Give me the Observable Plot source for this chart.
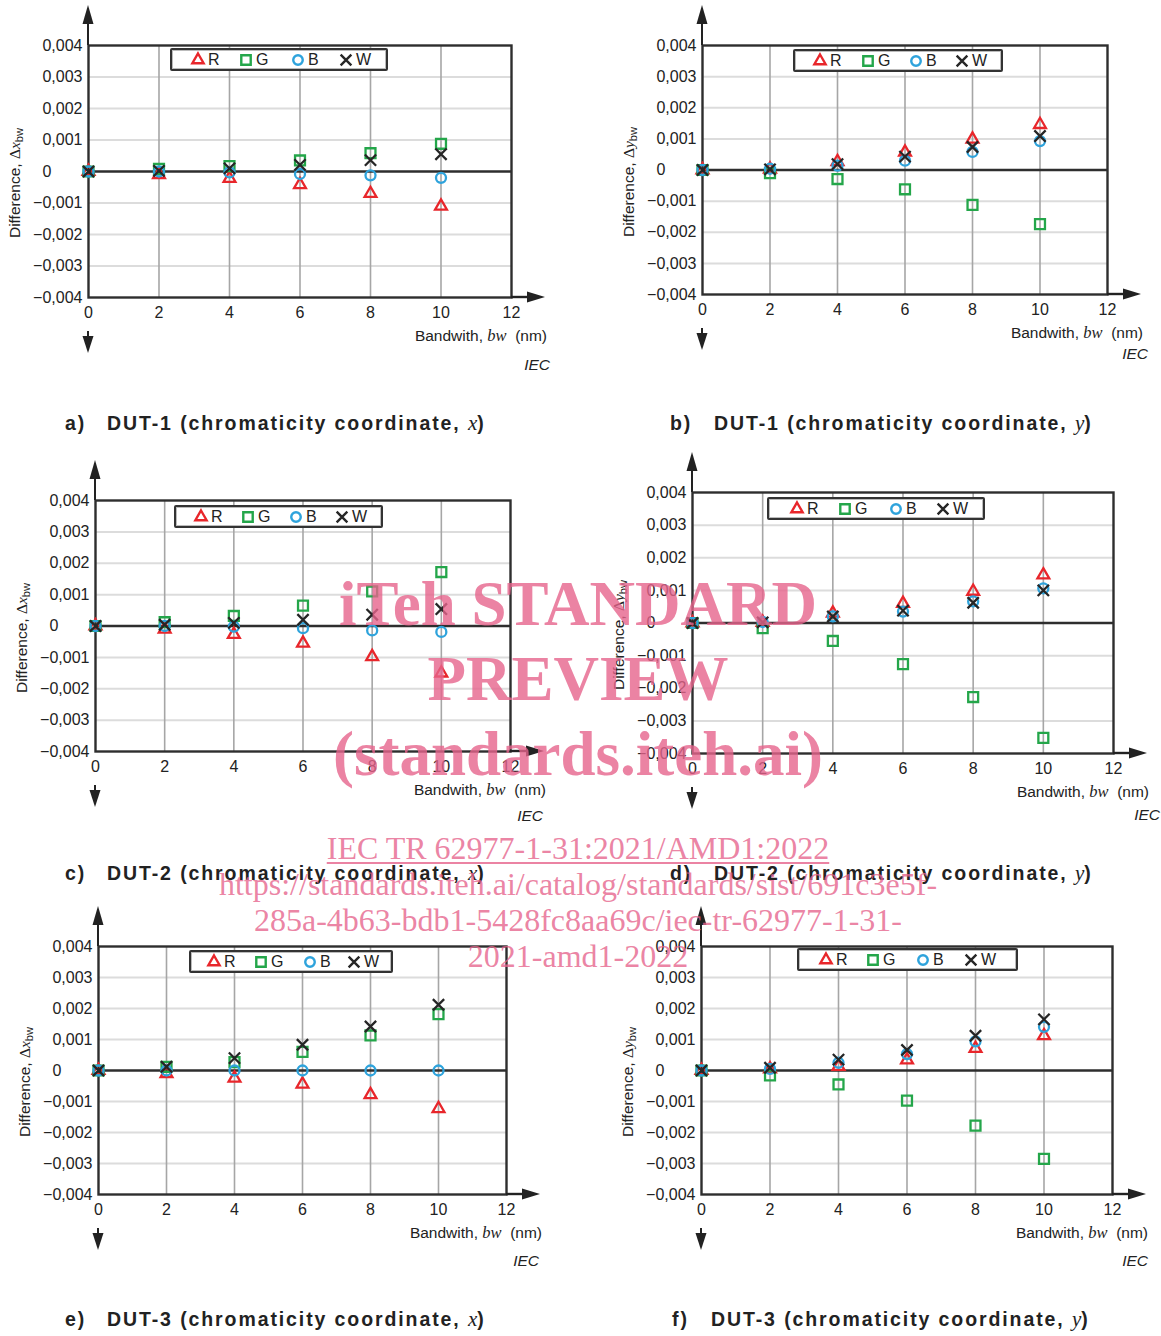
<!DOCTYPE html>
<html><head><meta charset="utf-8">
<script src="https://cdn.jsdelivr.net/npm/d3@7"></script>
<script src="https://cdn.jsdelivr.net/npm/@observablehq/plot@0.6"></script>
<style>
body{margin:0;background:#fff;}
#root{position:relative;width:1161px;height:1336px;overflow:hidden;font-family:"Liberation Sans",Arial,sans-serif;color:#222;background:#fff;}
.abs{position:absolute;white-space:nowrap;}
.serif{font-family:"Liberation Serif","Times New Roman",serif;}
.ylab{position:absolute;transform:translate(-50%,-50%) rotate(-90deg);white-space:nowrap;font-size:15.5px;line-height:18px;}
.ylab sub{font-size:0.72em;vertical-align:-0.25em;line-height:0;}
.legend{position:absolute;height:19px;border:2px solid #333;border-radius:2px;background:#fff;box-shadow:0 0 0 1px #bbb inset;}
.legend .it{position:absolute;top:0;height:19px;font-size:16px;line-height:19px;}
.legend svg{position:absolute;overflow:visible;}
.xlab{font-size:15.5px;line-height:18px;transform:translateX(-100%);}
.iec{font-size:15.5px;font-style:italic;line-height:18px;transform:translateX(-100%);}
.cap{font-size:19.5px;font-weight:bold;letter-spacing:1.9px;line-height:24px;}
.cap i{font-family:"Liberation Serif","Times New Roman",serif;font-weight:normal;font-size:21px;letter-spacing:0;}
.wm{position:absolute;left:0;width:1156px;text-align:center;color:rgba(230,100,140,0.8);font-family:"Liberation Serif","Times New Roman",serif;pointer-events:none;white-space:nowrap;}
.wm.big{font-size:63px;font-weight:bold;line-height:75px;}
.wm.small{font-size:32px;line-height:36px;}
</style></head><body><div id="root"></div>
<script>
// ---- data ----
const bandwidth = [0, 2, 4, 6, 8, 10];
const xTicks = [0, 2, 4, 6, 8, 10, 12];
const yTicks = [-0.004, -0.003, -0.002, -0.001, 0, 0.001, 0.002, 0.003, 0.004];
const seriesNames = ["R", "G", "B", "W"];
const seriesColors = ["#e8262b", "#24a64a", "#2ea3dc", "#262626"];
const seriesSymbols = ["triangle", "square", "circle", "times"];

const dut1x = {
  R: [0, -0.00010, -0.00022, -0.00042, -0.00070, -0.00110],
  G: [0, 0.00008, 0.00017, 0.00035, 0.00058, 0.00088],
  B: [0, 0.00000, -0.00003, -0.00008, -0.00012, -0.00020],
  W: [0, 0.00002, 0.00010, 0.00021, 0.00036, 0.00055]
};
const dut1y = {
  R: [0, 0.00003, 0.00027, 0.00057, 0.00099, 0.00146],
  G: [0, -0.00010, -0.00029, -0.00062, -0.00112, -0.00174],
  B: [0, 0.00004, 0.00014, 0.00030, 0.00058, 0.00093],
  W: [0, 0.00002, 0.00019, 0.00043, 0.00074, 0.00109]
};
const dut2x = {
  R: [0, -0.00010, -0.00027, -0.00055, -0.00098, -0.00150],
  G: [0, 0.00012, 0.00032, 0.00065, 0.00110, 0.00172],
  B: [0, 0.00000, -0.00002, -0.00007, -0.00014, -0.00019],
  W: [0, 0.00004, 0.00010, 0.00020, 0.00036, 0.00054]
};
const dut2y = {
  R: [0, 0.00002, 0.00030, 0.00060, 0.00097, 0.00147],
  G: [0, -0.00016, -0.00055, -0.00126, -0.00227, -0.00352],
  B: [0, 0.00003, 0.00020, 0.00035, 0.00066, 0.00106],
  W: [0, 0.00002, 0.00020, 0.00038, 0.00062, 0.00100]
};
const dut3x = {
  R: [0, -0.00010, -0.00025, -0.00044, -0.00078, -0.00123],
  G: [0, 0.00012, 0.00027, 0.00060, 0.00113, 0.00182],
  B: [0, 0.00000, 0.00000, 0.00000, 0.00000, 0.00000],
  W: [0, 0.00012, 0.00040, 0.00083, 0.00142, 0.00212]
};
const dut3y = {
  R: [0, 0.00005, 0.00013, 0.00034, 0.00071, 0.00112],
  G: [0, -0.00016, -0.00045, -0.00097, -0.00178, -0.00285],
  B: [0, 0.00005, 0.00025, 0.00053, 0.00094, 0.00141],
  W: [0, 0.00009, 0.00035, 0.00066, 0.00112, 0.00165]
};

const panelLetters = ["a", "b", "c", "d", "e", "f"];
const panelDuts = ["DUT-1", "DUT-1", "DUT-2", "DUT-2", "DUT-3", "DUT-3"];
const panelCoords = ["x", "y", "x", "y", "x", "y"];
const panelValues = [dut1x, dut1y, dut2x, dut2y, dut3x, dut3y];

// ---- layout (pixels) ----
const layout = [
  {frame: [88, 511, 45, 297],  legend: [170, 48, 218],  legendX: [28, 76, 128, 176], iec: [550, 356], capL: 65,  capT: 411},
  {frame: [702, 1107, 45, 294], legend: [793, 49, 210], legendX: [27, 75, 123, 169], iec: [1148, 345], capL: 670, capT: 411},
  {frame: [95, 510, 500, 751], legend: [174, 505, 209], legendX: [27, 74, 122, 168], iec: [543, 807], capL: 65,  capT: 861},
  {frame: [692, 1113, 492, 753], legend: [767, 497, 218], legendX: [30, 78, 129, 176], iec: [1160, 806], capL: 670, capT: 861},
  {frame: [98, 506, 946, 1194], legend: [189, 950, 204], legendX: [25, 72, 121, 165], iec: [539, 1252], capL: 65,  capT: 1307},
  {frame: [701, 1112, 946, 1194], legend: [797, 948, 221], legendX: [29, 76, 126, 174], iec: [1148, 1252], capL: 672, capT: 1307}
];
const capGap = [42, 44, 42, 44, 42, 39];
const symbolRadius = {triangle: 4.4, square: 5.6, circle: 5.0, times: 5.2};

const root = document.getElementById("root");
// "0" is padded with figure/punctuation spaces so it lines up with the left edge of "0,004"
const fmt = d => d === 0 ? "0\u2008\u2007\u2007\u2007" : d3.format(".3f")(d).replace(".", ",");

function axisArrows(index, scales, values, dims) {
  const {width, height, marginLeft, marginRight, marginTop, marginBottom} = dims;
  const x0 = marginLeft, x1 = width - marginRight, y0 = marginTop, y1 = height - marginBottom;
  const g = d3.create("svg:g").attr("fill", "#222").attr("stroke", "#222");
  g.append("line").attr("x1", x0).attr("x2", x0).attr("y1", y0).attr("y2", y0 - 24).attr("stroke-width", 2);
  g.append("path").attr("stroke", "none").attr("d", `M${x0 - 5.5},${y0 - 21}L${x0},${y0 - 40}L${x0 + 5.5},${y0 - 21}Z`);
  g.append("line").attr("x1", x1).attr("x2", x1 + 20).attr("y1", y1).attr("y2", y1).attr("stroke-width", 2.4);
  g.append("path").attr("stroke", "none").attr("d", `M${x1 + 16},${y1 - 5.5}L${x1 + 34},${y1}L${x1 + 16},${y1 + 5.5}Z`);
  g.append("line").attr("x1", x0).attr("x2", x0).attr("y1", y1 + 34).attr("y2", y1 + 42).attr("stroke-width", 2);
  g.append("path").attr("stroke", "none").attr("d", `M${x0 - 5.5},${y1 + 39}L${x0},${y1 + 56}L${x0 + 5.5},${y1 + 39}Z`);
  return g.node();
}

function symbolPath(name, r) {
  const t = {triangle: d3.symbolTriangle, square: d3.symbolSquare, circle: d3.symbolCircle, times: d3.symbolTimes}[name];
  return d3.symbol(t, Math.PI * r * r)();
}

panelLetters.forEach((letter, pi) => {
  const L0 = layout[pi];
  const [L, R, T, B] = L0.frame;
  const values = panelValues[pi];
  const rows = [];
  seriesNames.forEach(s => values[s].forEach((v, i) => rows.push({bw: bandwidth[i], d: v, series: s})));
  const mL = 90, mR = 50, mT = 45, mB = 62;
  const dotMarks = seriesNames.map((s, si) =>
    Plot.dot(rows.filter(r => r.series === s), {
      x: "bw", y: "d", symbol: "series", stroke: "series",
      r: symbolRadius[seriesSymbols[si]], strokeWidth: 2.3, fill: "none"
    })
  );
  const chart = Plot.plot({
    width: (R - L) + mL + mR,
    height: (B - T) + mT + mB,
    marginLeft: mL, marginRight: mR, marginTop: mT, marginBottom: mB,
    style: {fontSize: "16px", fontFamily: "Liberation Sans, Arial, sans-serif", color: "#222", background: "transparent", overflow: "visible"},
    x: {domain: [0, 12], ticks: xTicks, tickSize: 0, tickPadding: 9, label: null},
    y: {domain: [-0.004, 0.004], ticks: yTicks, tickSize: 0, tickPadding: 6, tickFormat: fmt, label: null},
    symbol: {domain: seriesNames, range: seriesSymbols},
    color: {domain: seriesNames, range: seriesColors},
    marks: [
      Plot.ruleY(yTicks.filter(t => t !== 0 && Math.abs(t) < 0.0039), {stroke: "#dcdcdc", strokeWidth: 2}),
      Plot.ruleX(xTicks.filter(t => t > 0 && t < 12), {stroke: "#a6a6a6", strokeWidth: 1.6}),
      Plot.frame({stroke: "#2e2e2e", strokeWidth: 2.4}),
      Plot.ruleY([0], {stroke: "#2e2e2e", strokeWidth: 2.4}),
      axisArrows,
      ...dotMarks
    ]
  });
  chart.style.position = "absolute";
  chart.style.left = (L - mL) + "px";
  chart.style.top = (T - mT) + "px";
  root.appendChild(chart);

  const coord = panelCoords[pi];
  const yl = document.createElement("div");
  yl.className = "ylab";
  yl.style.left = (L - 73) + "px";
  yl.style.top = ((T + B) / 2 + 12) + "px";
  yl.innerHTML = `Difference, <span class="serif">Δ<i>${coord}</i></span><sub>bw</sub>`;
  root.appendChild(yl);

  const xl = document.createElement("div");
  xl.className = "abs xlab";
  xl.style.left = (R + 36) + "px";
  xl.style.top = (B + 30) + "px";
  xl.innerHTML = `Bandwith, <i class="serif" style="font-size:16.5px">bw</i>&nbsp;&nbsp;(nm)`;
  root.appendChild(xl);

  const ie = document.createElement("div");
  ie.className = "abs iec";
  ie.style.left = L0.iec[0] + "px";
  ie.style.top = L0.iec[1] + "px";
  ie.textContent = "IEC";
  root.appendChild(ie);

  const lg = document.createElement("div");
  lg.className = "legend";
  lg.style.left = L0.legend[0] + "px";
  lg.style.top = L0.legend[1] + "px";
  lg.style.width = (L0.legend[2] - 4) + "px";
  seriesNames.forEach((s, si) => {
    const cx = L0.legendX[si] - 2;
    const svgNS = "http://www.w3.org/2000/svg";
    const sv = document.createElementNS(svgNS, "svg");
    sv.setAttribute("width", 14); sv.setAttribute("height", 14);
    sv.style.left = (cx - 7) + "px"; sv.style.top = "2.5px";
    const p = document.createElementNS(svgNS, "path");
    p.setAttribute("d", symbolPath(seriesSymbols[si], symbolRadius[seriesSymbols[si]] * 0.95));
    p.setAttribute("transform", "translate(7,7)");
    p.setAttribute("fill", "none");
    p.setAttribute("stroke", seriesColors[si]);
    p.setAttribute("stroke-width", 2.4);
    sv.appendChild(p);
    lg.appendChild(sv);
    const tx = document.createElement("div");
    tx.className = "it";
    tx.style.left = (cx + 10) + "px";
    tx.textContent = s;
    lg.appendChild(tx);
  });
  root.appendChild(lg);

  const c1 = document.createElement("div");
  c1.className = "abs cap";
  c1.style.left = L0.capL + "px";
  c1.style.top = L0.capT + "px";
  c1.textContent = letter + ")";
  root.appendChild(c1);
  const c2 = document.createElement("div");
  c2.className = "abs cap";
  c2.style.left = (L0.capL + capGap[pi]) + "px";
  c2.style.top = L0.capT + "px";
  c2.innerHTML = `${panelDuts[pi]} (chromaticity coordinate, <i>${coord}</i>)`;
  root.appendChild(c2);
});

// watermark
const wmBig = ["iTeh STANDARD", "PREVIEW", "(standards.iteh.ai)"];
const wmSmall = ["IEC TR 62977-1-31:2021/AMD1:2022", "https://standards.iteh.ai/catalog/standards/sist/691c3e5f-", "285a-4b63-bdb1-5428fc8aa69c/iec-tr-62977-1-31-", "2021-amd1-2022"];
wmBig.forEach((t, i) => {
  const d = document.createElement("div");
  d.className = "wm big";
  d.style.top = (567 + i * 75) + "px";
  d.textContent = t;
  root.appendChild(d);
});
wmSmall.forEach((t, i) => {
  const d = document.createElement("div");
  d.className = "wm small";
  d.style.top = (830 + i * 36) + "px";
  if (i === 0) d.innerHTML = `<span style="text-decoration:underline;text-decoration-thickness:2px;text-underline-offset:3px">${t}</span>`;
  else d.textContent = t;
  root.appendChild(d);
});
</script></body></html>
